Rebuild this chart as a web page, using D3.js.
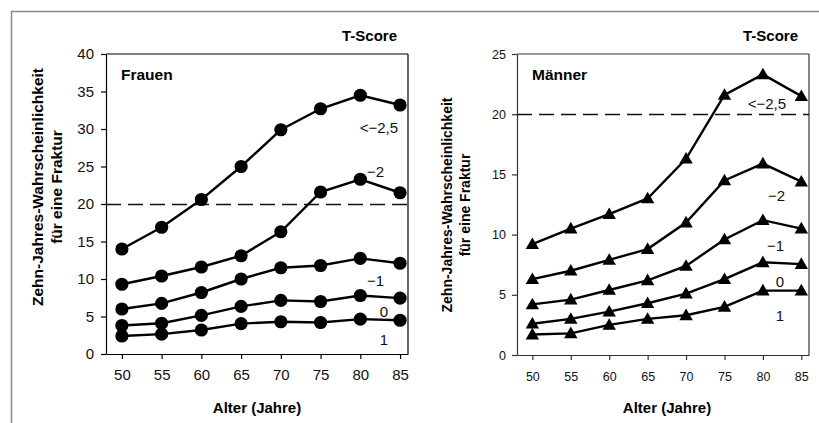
<!DOCTYPE html>
<html>
<head>
<meta charset="utf-8">
<script src="https://cdn.jsdelivr.net/npm/d3@7"></script>
<style>
  html, body { margin: 0; padding: 0; background: #fff; }
  svg { display: block; font-family: "Liberation Sans", Arial, Helvetica, sans-serif; }
</style>
</head>
<body>
<svg id="chart" width="819" height="423"></svg>
<script>
// ---- data ----
const ages = [50, 55, 60, 65, 70, 75, 80, 85];
const tScoreLabels = ["<\u22122,5", "\u22122", "\u22121", "0", "1"];

const frauenM25 = [14.0, 16.9, 20.6, 25.0, 29.9, 32.7, 34.5, 33.2];
const frauenM2  = [9.3, 10.4, 11.6, 13.1, 16.3, 21.6, 23.3, 21.5];
const frauenM1  = [6.0, 6.75, 8.2, 10.0, 11.5, 11.8, 12.75, 12.1];
const frauen0   = [3.8, 4.1, 5.15, 6.35, 7.15, 7.0, 7.8, 7.45];
const frauen1   = [2.4, 2.65, 3.2, 4.05, 4.3, 4.2, 4.65, 4.5];

const maennerM25 = [9.2, 10.5, 11.7, 13.0, 16.3, 21.6, 23.3, 21.5];
const maennerM2  = [6.3, 7.0, 7.9, 8.8, 11.0, 14.5, 15.9, 14.4];
const maennerM1  = [4.2, 4.6, 5.4, 6.2, 7.4, 9.6, 11.2, 10.5];
const maenner0   = [2.6, 3.0, 3.6, 4.3, 5.1, 6.3, 7.7, 7.55];
const maenner1   = [1.7, 1.8, 2.5, 3.0, 3.3, 4.0, 5.35, 5.35];

const frauenYTicks = [0, 5, 10, 15, 20, 25, 30, 35, 40];
const maennerYTicks = [0, 5, 10, 15, 20, 25];
const thresholdValue = 20;

const yTitle1 = "Zehn-Jahres-Wahrscheinlichkeit";
const yTitle2 = "für eine Fraktur";
const xTitle = "Alter (Jahre)";
const legendTitle = "T-Score";

// ---- drawing ----
const svg = d3.select("#chart");

// outer frame
svg.append("line").attr("x1", 11).attr("x2", 819).attr("y1", 11.5).attr("y2", 11.5)
  .attr("stroke", "#8a8a8a").attr("stroke-width", 1.5);
svg.append("line").attr("x1", 11.5).attr("x2", 11.5).attr("y1", 11).attr("y2", 423)
  .attr("stroke", "#8a8a8a").attr("stroke-width", 1.5);

function drawPanel(cfg) {
  const g = svg.append("g");
  const x = d3.scaleLinear().domain([48, 86]).range([cfg.left, cfg.right]);
  const y = d3.scaleLinear().domain([0, cfg.yMax]).range([cfg.bottom, cfg.top]);

  // box top & right
  g.append("line").attr("x1", cfg.left).attr("x2", cfg.right).attr("y1", cfg.top).attr("y2", cfg.top)
    .attr("stroke", cfg.axisColor).attr("stroke-width", 1.2);
  g.append("line").attr("x1", cfg.right).attr("x2", cfg.right).attr("y1", cfg.top).attr("y2", cfg.bottom)
    .attr("stroke", cfg.axisColor).attr("stroke-width", 1.2);

  // axes
  const yAxis = g.append("g").attr("transform", `translate(${cfg.left},0)`)
    .call(d3.axisLeft(y).tickValues(cfg.yTicks).tickSize(5).tickSizeOuter(0).tickPadding(cfg.tickPadY).tickFormat(d3.format("d")));
  const xAxis = g.append("g").attr("transform", `translate(0,${cfg.bottom})`)
    .call(d3.axisBottom(x).tickValues(ages).tickSize(5).tickSizeOuter(0).tickPadding(cfg.tickPadX).tickFormat(d3.format("d")));
  [yAxis, xAxis].forEach(a => {
    a.attr("font-family", null).attr("font-size", cfg.tickFont);
    a.select(".domain").attr("stroke", cfg.axisColor).attr("stroke-width", 1.2);
    a.selectAll(".tick line").attr("stroke", cfg.axisColor).attr("stroke-width", 1.2);
    a.selectAll(".tick text").attr("fill", "#111");
  });

  // threshold dashed line
  g.append("line").attr("x1", cfg.left).attr("x2", cfg.right + cfg.dashOver)
    .attr("y1", Math.round(y(thresholdValue)) + 0.5).attr("y2", Math.round(y(thresholdValue)) + 0.5)
    .attr("stroke", "#111").attr("stroke-width", 1.3).attr("stroke-dasharray", "15,7");

  const line = d3.line().x((d, i) => x(ages[i])).y(d => y(d));
  cfg.series.forEach((s, si) => {
    g.append("path").datum(s).attr("d", line).attr("fill", "none")
      .attr("stroke", "#000").attr("stroke-width", 2.4);
    if (cfg.marker === "circle") {
      g.selectAll(null).data(s).enter().append("circle")
        .attr("cx", (d, i) => x(ages[i])).attr("cy", d => y(d)).attr("r", 6.6).attr("fill", "#000");
    } else {
      const tri = d3.symbol().type(d3.symbolTriangle).size(78);
      g.selectAll(null).data(s).enter().append("path")
        .attr("d", tri)
        .attr("transform", (d, i) => `translate(${x(ages[i])},${y(d) + 1})`)
        .attr("fill", "#000");
    }
    g.append("text").attr("x", cfg.labelPos[si][0]).attr("y", cfg.labelPos[si][1])
      .attr("text-anchor", "end").attr("dominant-baseline", "central")
      .attr("font-size", cfg.labelFont).attr("fill", "#111").text(tScoreLabels[si]);
  });

  // panel title
  g.append("text").attr("x", cfg.left + 15).attr("y", cfg.titleY).attr("dominant-baseline", "central")
    .attr("font-size", cfg.titleFont).attr("font-weight", "bold").text(cfg.title);
  // T-Score heading
  g.append("text").attr("x", cfg.right - 11).attr("y", 35).attr("text-anchor", "end")
    .attr("dominant-baseline", "central").attr("font-size", 15).attr("font-weight", "bold").text(legendTitle);
  // x title
  g.append("text").attr("x", (cfg.left + cfg.right) / 2 + cfg.xTitleShift).attr("y", 407)
    .attr("text-anchor", "middle").attr("dominant-baseline", "central")
    .attr("font-size", 15).attr("font-weight", "bold").text(xTitle);
  // y title
  const yt = g.append("text").attr("transform", `translate(${cfg.yTitleX},${cfg.yTitleY}) rotate(-90)`)
    .attr("text-anchor", "middle").attr("font-size", cfg.yTitleFont).attr("font-weight", "bold");
  yt.append("tspan").attr("x", 0).attr("dy", 0).text(yTitle1);
  yt.append("tspan").attr("x", 0).attr("dy", cfg.yTitleFont * 1.25).text(yTitle2);
}

drawPanel({
  left: 106, right: 408, top: 54, bottom: 354, yMax: 40, yTicks: frauenYTicks,
  tickFont: 15, tickPadY: 7, tickPadX: 10, axisColor: "#000", dashOver: 5,
  series: [frauenM25, frauenM2, frauenM1, frauen0, frauen1], marker: "circle",
  labelPos: [[398, 127], [384, 171], [384, 280], [388, 311], [388, 339]], labelFont: 15,
  title: "Frauen", titleFont: 15.5, titleY: 74, xTitleShift: 0,
  yTitleX: 43, yTitleY: 187, yTitleFont: 15.5
});

drawPanel({
  left: 517, right: 809, top: 54, bottom: 355, yMax: 25, yTicks: maennerYTicks,
  tickFont: 12.5, tickPadY: 6, tickPadX: 12, axisColor: "#333", dashOver: 0,
  series: [maennerM25, maennerM2, maennerM1, maenner0, maenner1], marker: "triangle",
  labelPos: [[786, 103], [785, 195], [784, 245], [784, 281], [784, 315]], labelFont: 15,
  title: "Männer", titleFont: 15.5, titleY: 74, xTitleShift: 4,
  yTitleX: 452, yTitleY: 205, yTitleFont: 14
});
</script>
</body>
</html>
